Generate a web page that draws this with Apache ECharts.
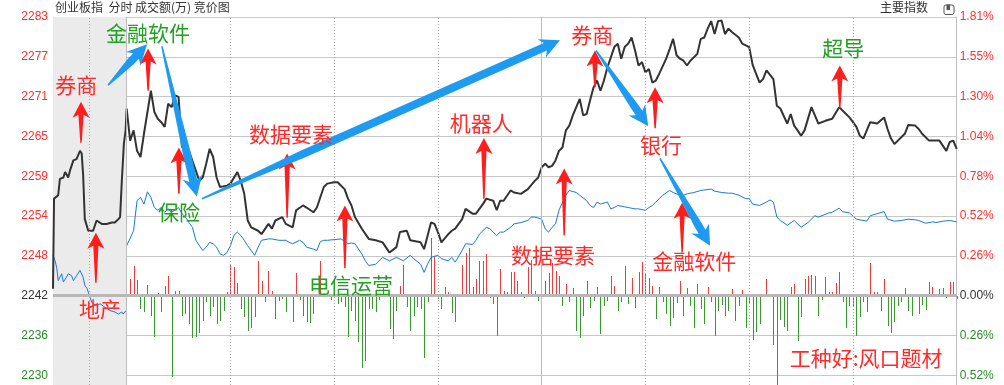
<!DOCTYPE html>
<html><head><meta charset="utf-8">
<script src="https://cdn.jsdelivr.net/npm/echarts@6/dist/echarts.min.js"></script>
<style>html,body{margin:0;padding:0;background:#fff}#c{width:1004px;height:385px}</style>
</head><body><div id="c"></div>
<script>
// ---------- data ----------
const PREV_CLOSE = 2242;
const leftLabels = ['2224','2230','2236','2242','2248','2254','2259','2265','2271','2277','2283'];
const rightLabels = ['0.78%','0.52%','0.26%','0.00%','0.26%','0.52%','0.78%','1.04%','1.30%','1.55%','1.81%'];
const timeMarksDotted = [-10.9, 30, 60, 90, 150, 180, 210];
const timeMarksSolid = [0, 120];

const auctionIndex = [[-21.3,2243.0],[-21.0,2256.2],[-19.8,2256.7],[-19.3,2259.1],[-18.3,2259.3],[-17.8,2260.1],[-16.9,2259.3],[-16.4,2260.3],[-15.4,2261.8],[-14.5,2262.0],[-13.5,2263.2],[-13.0,2262.8],[-12.6,2259.8],[-12.1,2253.2],[-11.1,2251.5],[-9.7,2251.5],[-8.7,2253.0],[-7.2,2252.5],[-5.8,2252.5],[-4.3,2252.7],[-3.4,2252.7],[-2.4,2253.2],[-1.9,2253.5],[-1.4,2258.8],[-0.8,2264.3],[-0.3,2266.2]];

const sessionIndex = [[0,2269.4],[1,2264.7],[2,2266.2],[3,2263.2],[4,2262.3],[5,2265.7],[7,2272.0],[8,2268.9],[9,2267.9],[10,2267.4],[11,2266.7],[12,2270.1],[13,2269.6],[14,2271.3],[15,2271.1],[16,2263.7],[17,2264.2],[18,2263.2],[20,2260.3],[21,2258.8],[22,2259.3],[23,2261.3],[24,2263.5],[25,2262.3],[26,2259.3],[27,2257.9],[29,2258.1],[30,2258.4],[32,2260.1],[33,2258.8],[34,2256.9],[35,2253.0],[36,2252.0],[38,2251.5],[39,2251.0],[41,2252.5],[42,2251.8],[43,2253.0],[45,2253.5],[46,2252.5],[48,2252.0],[49,2254.5],[51,2255.2],[52,2254.9],[54,2254.2],[55,2254.9],[56,2256.4],[57,2257.9],[58,2258.4],[60,2258.6],[61,2258.6],[63,2257.6],[64,2256.2],[65,2255.2],[66,2253.5],[68,2251.8],[70,2250.3],[72,2250.1],[74,2249.8],[76,2248.3],[78,2249.1],[79,2251.3],[81,2251.5],[82,2250.1],[85,2249.8],[86,2248.8],[88,2252.7],[89,2252.5],[90,2251.3],[91,2249.8],[93,2251.0],[94,2251.5],[95,2251.8],[97,2253.2],[98,2254.7],[100,2254.0],[101,2254.0],[103,2255.4],[104,2256.2],[106,2255.9],[107,2254.5],[108,2255.9],[109,2255.9],[111,2257.4],[112,2257.1],[114,2256.9],[116,2257.6],[118,2258.8],[119,2259.3],[120,2260.8],[121,2261.3],[122,2260.8],[123,2261.0],[124,2261.8],[125,2263.2],[126,2263.7],[127,2266.2],[128,2266.9],[129,2268.4],[130,2269.6],[131,2270.8],[132,2268.4],[133,2268.6],[134,2270.6],[135,2272.5],[136,2273.5],[137,2272.0],[138,2273.5],[139,2275.4],[141,2278.4],[142,2278.9],[143,2276.7],[144,2278.4],[145,2278.9],[146,2279.8],[147,2277.9],[148,2275.7],[149,2276.2],[150,2274.7],[151,2275.2],[152,2273.2],[153,2273.5],[154,2274.5],[156,2276.7],[157,2278.1],[158,2279.6],[159,2277.2],[160,2276.7],[161,2276.4],[162,2275.7],[163,2276.4],[165,2277.4],[166,2279.6],[167,2279.8],[168,2281.1],[169,2282.2],[170,2280.3],[171,2282.2],[172,2282.3],[173,2280.3],[174,2281.1],[175,2280.6],[177,2279.8],[178,2278.9],[180,2278.4],[181,2275.8],[183,2273.2],[184,2273.7],[185,2275.0],[187,2273.7],[188,2269.8],[189,2269.4],[191,2267.2],[192,2268.6],[193,2266.9],[194,2266.2],[195,2265.4],[196,2266.2],[198,2269.6],[200,2267.2],[202,2267.6],[204,2267.9],[206,2269.6],[208,2268.6],[209,2268.1],[211,2266.7],[212,2265.4],[213,2265.0],[214,2266.2],[215,2267.4],[217,2267.2],[219,2268.1],[220,2266.4],[221,2265.0],[222,2264.2],[223,2264.7],[225,2265.7],[226,2267.0],[228,2266.9],[229,2266.4],[230,2265.7],[232,2264.7],[235,2264.7],[237,2263.2],[238,2264.5],[239,2264.7],[240,2263.5]];

const auctionAvg = [[-21.3,2247.9],[-20.7,2247.1],[-20.2,2246.0],[-19.8,2244.2],[-18.8,2245.2],[-18.3,2244.0],[-17.4,2244.7],[-16.9,2245.2],[-15.9,2244.9],[-15.4,2244.2],[-14.5,2244.9],[-13.5,2245.7],[-13.0,2245.9],[-12.6,2244.7],[-12.1,2243.5],[-11.4,2243.0],[-11.1,2242.5],[-10.1,2241.0],[-8.7,2240.5],[-7.7,2240.8],[-6.3,2240.3],[-4.8,2239.8],[-3.4,2239.6],[-2.4,2239.3],[-1.4,2239.6],[-1.0,2239.3],[-0.2,2239.8]];

const sessionAvg = [[0,2249.3],[2,2251.5],[3,2255.9],[4,2256.4],[5,2255.4],[6,2257.2],[7,2256.4],[8,2254.9],[9,2254.5],[10,2254.9],[11,2254.2],[12,2254.7],[13,2254.2],[15,2254.9],[16,2254.0],[17,2253.5],[18,2252.7],[19,2252.0],[20,2250.1],[22,2248.6],[23,2249.1],[24,2249.8],[25,2249.6],[26,2249.1],[27,2248.1],[28,2247.9],[29,2248.3],[30,2249.3],[31,2250.8],[32,2251.3],[33,2250.8],[34,2250.1],[35,2249.3],[37,2247.9],[38,2249.1],[39,2250.1],[41,2250.3],[42,2250.3],[44,2250.1],[46,2250.1],[47,2249.8],[48,2249.6],[50,2250.1],[51,2249.8],[52,2249.1],[54,2248.8],[55,2248.6],[56,2249.9],[57,2250.1],[58,2250.1],[60,2250.2],[62,2250.3],[64,2249.6],[65,2249.7],[66,2249.6],[68,2248.1],[69,2247.1],[70,2246.4],[72,2246.6],[74,2247.6],[76,2247.1],[78,2247.6],[80,2247.1],[82,2247.9],[83,2247.4],[85,2246.6],[86,2245.4],[87,2246.6],[88,2247.6],[90,2247.9],[91,2247.4],[93,2247.1],[94,2247.6],[95,2246.9],[97,2248.6],[98,2249.6],[100,2249.5],[101,2250.1],[102,2251.0],[104,2252.0],[105,2251.8],[107,2250.8],[108,2251.3],[109,2251.3],[111,2252.0],[112,2252.5],[114,2252.7],[116,2253.0],[117,2253.5],[118,2253.5],[120,2253.2],[121,2251.8],[122,2251.3],[123,2252.0],[124,2252.5],[125,2254.5],[127,2256.7],[128,2257.4],[130,2257.1],[131,2256.7],[133,2255.9],[134,2255.2],[135,2254.9],[136,2255.7],[137,2255.4],[139,2255.7],[140,2254.7],[141,2254.9],[142,2255.2],[144,2255.0],[145,2254.9],[147,2254.7],[148,2254.7],[150,2254.5],[151,2254.9],[152,2255.2],[153,2255.7],[155,2256.7],[157,2257.4],[158,2257.1],[160,2256.7],[161,2256.7],[162,2256.9],[164,2257.1],[166,2257.4],[169,2257.6],[170,2257.3],[172,2257.1],[174,2257.0],[175,2257.0],[177,2256.7],[179,2256.2],[180,2256.2],[181,2255.4],[183,2255.2],[185,2255.7],[186,2256.0],[187,2255.7],[188,2253.5],[189,2253.0],[191,2252.3],[193,2253.0],[195,2252.0],[197,2252.7],[199,2253.7],[200,2253.5],[201,2253.7],[203,2254.1],[204,2254.2],[206,2254.8],[207,2254.3],[209,2254.1],[211,2253.2],[214,2252.9],[215,2253.7],[217,2254.0],[219,2254.3],[220,2253.2],[222,2252.9],[224,2253.0],[226,2253.2],[228,2253.1],[229,2253.0],[231,2252.6],[233,2252.8],[234,2252.7],[236,2252.9],[238,2253.0],[240,2252.8]];

// turnover per minute (signed: + up, - down)
const turnover = [[1,1670],[2,3000],[3,1570],[4,-1330],[5,-1670],[6,1100],[7,-2000],[8,-4170],[9,230],[10,-1670],[11,1000],[12,2000],[13,-8100],[14,500],[15,500],[16,-2000],[17,-1830],[18,-2830],[19,-4230],[20,-4170],[21,-3770],[22,-2570],[23,-670],[24,-2000],[25,-1170],[26,-2830],[27,-2500],[28,-1570],[29,330],[30,3170],[31,2900],[32,1230],[33,-1330],[34,-2170],[35,-3500],[36,-3230],[37,-2170],[38,3500],[39,1500],[40,-670],[41,2500],[42,500],[43,-2330],[44,-500],[45,-330],[46,-1670],[47,-170],[48,-2670],[49,2230],[50,-430],[51,-2000],[52,-2670],[53,-2770],[54,-1830],[56,3500],[59,-430],[61,-830],[62,-670],[63,-1170],[64,-4170],[65,-1500],[66,-2500],[67,-4670],[68,-7230],[69,-6570],[70,-1330],[71,-1330],[72,-1670],[73,-430],[74,800],[76,-3330],[77,-4330],[78,-1500],[79,1000],[80,3100],[81,-1170],[82,-3570],[83,-2000],[84,-1100],[85,-1330],[86,-6230],[87,-670],[88,5800],[89,4000],[90,-330],[91,-1330],[92,900],[93,400],[94,-1770],[95,-2670],[97,3100],[98,4300],[99,4800],[100,900],[101,1670],[102,3500],[103,3500],[104,4170],[105,-270],[106,-830],[107,-4000],[108,2670],[109,430],[110,330],[111,2330],[112,2330],[113,1500],[114,330],[115,-230],[116,2830],[117,3600],[118,500],[119,-570],
[121,1500],[122,2300],[123,3300],[124,2500],[125,2000],[126,-1000],[127,1200],[128,-600],[129,800],[130,-3500],[131,-4200],[132,-2000],[133,1500],[134,-1200],[135,-500],[136,900],[137,-3800],[138,-1000],[139,-500],[140,2000],[141,1000],[142,-1500],[143,-600],[144,3000],[145,-800],[146,1800],[147,-1200],[148,2400],[149,3400],[150,2200],[151,1800],[152,1000],[153,-2300],[154,900],[155,-600],[156,-1800],[157,-3000],[158,-2200],[159,-700],[160,1500],[161,-2000],[162,800],[163,-1000],[164,-3200],[165,1200],[166,-1300],[167,-2800],[168,900],[169,-600],[170,-4000],[171,-1500],[172,-900],[173,-2000],[174,-1500],[175,700],[176,-2500],[177,-1000],[178,600],[179,-3200],[180,-800],
[181,-4400],[182,-3670],[183,-2830],[184,170],[185,1670],[186,100],[187,-4930],[188,-9000],[189,-2400],[190,-3170],[191,-3500],[192,830],[193,1170],[194,-4570],[195,-2170],[196,1670],[197,2000],[198,2070],[199,2000],[200,-2070],[201,-430],[202,1830],[203,400],[204,400],[205,1270],[206,2400],[207,-600],[208,-3270],[209,-1070],[210,-1000],[211,-4070],[212,-2170],[213,-600],[214,-1600],[215,3270],[216,400],[217,400],[218,-1500],[219,1670],[220,-3000],[221,-3730],[222,-2670],[223,-1070],[224,-600],[225,730],[226,-1500],[227,-2000],[228,-170],[229,-1830],[230,-930],[231,-1400],[232,1330],[233,830],[235,670],[236,730],[237,-270],[238,1330],[239,1330],[240,-330]];

// annotations (minute, index level)
const noteTexts = ['券商','金融软件','保险','数据要素','电信运营','机器人','数据要素','券商','银行','金融软件','超导','地产','工种好:风口题材'];
const noteTone  = ['red','green','green','red','green','red','red','red','red','red','green','red','red'];
const noteAnchors = [[-14.6,2272.9],[6.2,2280.4],[15.1,2254.2],[47.5,2265.7],[64.9,2243.6],[102.5,2267.3],[123.3,2248.0],[134.6,2280.1],[154.5,2264.0],[164.1,2247.1],[207.2,2278.2],[-7.7,2240.1],[213.8,2232.9]];
// red up-arrows: minute, tip level, tail level
const upArrows = [[-13.2,2270.4,2264.4],[6.2,2278.2,2272.0],[15.1,2263.7,2256.9],[46.4,2262.8,2253.4],[63.1,2255.2,2246.0],[103.3,2265.1,2256.2],[126.5,2260.6,2250.8],[135.4,2277.9,2272.5],[152.8,2272.5,2266.5],[160.6,2255.6,2248.3],[206.2,2275.7,2269.5],[-8.9,2251.2,2243.9]];
// blue flow arrows: from (minute, level) to (minute, level)
const flowArrows = [[-5.4,2272.8,5.9,2278.8],[10.2,2278.5,20.3,2256.5],[21.8,2256.2,125.3,2279.4],[135.7,2277.9,150.8,2266.8],[154.2,2262.1,168.7,2249.3]];

// ---------- chart ----------
const pct = p => (p / PREV_CLOSE - 1) * 100;
const toPct = arr => arr.map(d => [d[0], pct(d[1])]);
const RED = '#ff2a2a';
const STEP = 0.26, YMIN = -0.78, YMAX = 1.82;
const VOLK = 15300;
const idxOf = v => Math.round((Number(v) - YMIN) / STEP);
const labColor = v => { v = Number(v); return v > 0.001 ? '#ff3030' : (v < -0.001 ? '#2a8a2a' : '#333'); };
const CJK = '"Noto Sans CJK SC","Noto Sans CJK JP",sans-serif';

const chart = echarts.init(document.getElementById('c'), null, {renderer: 'canvas'});

function volItem(params, api) {
  const p = api.coord([api.value(0), api.value(1)]);
  const z = api.coord([api.value(0), 0]);
  const x = Math.round(p[0]);
  const y0 = Math.round(Math.min(p[1], z[1]));
  const y1 = Math.round(Math.max(p[1], z[1]));
  return {type: 'rect', shape: {x: x, y: y0, width: 1, height: Math.max(1, y1 - y0)},
    style: {fill: api.value(1) >= 0 ? '#f03c3c' : '#3a9a32'}};
}
function redArrow(params, api) {
  const t = api.coord([api.value(0), api.value(1)]);
  const b = api.coord([api.value(0), api.value(2)]);
  const x = t[0], y = t[1], L = b[1] - t[1];
  return {type: 'polygon', shape: {points: [[x, y], [x + 8.5, y + 16], [x + 2.6, y + 13], [x + 0.7, y + L], [x - 0.7, y + L], [x - 2.6, y + 13], [x - 8.5, y + 16]]},
    style: {fill: '#ff1e1e'}};
}
function blueArrow(params, api) {
  const t = api.coord([api.value(0), api.value(1)]);
  const h = api.coord([api.value(2), api.value(3)]);
  const dx = h[0] - t[0], dy = h[1] - t[1], len = Math.hypot(dx, dy);
  const ux = dx / len, uy = dy / len, nx = -uy, ny = ux;
  const HL = 20, HW = 10, SW = 4, TW = 0.8;
  const taper = Math.min(110, len - HL - 4);
  const at = (d, w) => [t[0] + ux * d + nx * w, t[1] + uy * d + ny * w];
  return {type: 'polygon', shape: {points: [at(0, TW), at(taper, SW), at(len - HL + 4, SW), at(len - HL, HW), at(len, 0), at(len - HL, -HW), at(len - HL + 4, -SW), at(taper, -SW), at(0, -TW)]},
    style: {fill: '#1e9bf0'}};
}
function noteItem(params, api) {
  const c = api.coord([api.value(0), api.value(1)]);
  const i = params.dataIndex;
  return {type: 'text', x: c[0], y: c[1], style: {text: noteTexts[i], fill: noteTone[i] === 'red' ? RED : '#22a022',
    font: '21px ' + CJK, align: 'center', verticalAlign: 'middle', textAlign: 'center', textVerticalAlign: 'middle'}};
}

const vLines = timeMarksDotted.map(v => ({xAxis: v, lineStyle: {type: [1, 2], color: '#a8a8a8', width: 1}}))
  .concat(timeMarksSolid.map(v => ({xAxis: v, lineStyle: {type: 'solid', color: '#bcbcbc', width: 1}})))
  .concat([{yAxis: 0, lineStyle: {type: 'solid', color: '#b8b8b8', width: 3}}]);

chart.setOption({
  animation: false,
  backgroundColor: '#ffffff',
  grid: {left: 53, top: 17, width: 903.7, height: 398, containLabel: false, outerBoundsMode: 'none'},
  xAxis: {type: 'value', min: -21.3, max: 240, show: false},
  yAxis: [
    {type: 'value', min: YMIN, max: YMAX, interval: STEP, position: 'left', z: 1,
      axisLine: {show: true, lineStyle: {color: '#bdbdbd'}}, axisTick: {show: false},
      splitLine: {show: true, lineStyle: {color: '#c8c8c8', width: 1}},
      axisLabel: {margin: 5, fontSize: 12, fontFamily: '"Liberation Sans",Arial,sans-serif',
        formatter: v => leftLabels[idxOf(v)] || '', color: labColor}},
    {type: 'value', min: YMIN, max: YMAX, interval: STEP, position: 'right', z: 1,
      axisLine: {show: true, lineStyle: {color: '#bdbdbd'}}, axisTick: {show: false}, splitLine: {show: false},
      axisLabel: {margin: 3, fontSize: 12, fontFamily: '"Liberation Sans",Arial,sans-serif',
        formatter: v => rightLabels[idxOf(v)] || '', color: labColor}},
    {type: 'value', min: YMIN * VOLK, max: YMAX * VOLK, show: false, splitLine: {show: false}}
  ],
  graphic: [
    {type: 'text', left: 55, top: 1, style: {text: '创业板指  分时 成交额(万) 竞价图', fill: '#333', font: '12px ' + CJK}},
    {type: 'text', left: 880, top: 1, style: {text: '主要指数', fill: '#333', font: '12px ' + CJK}},
    {type: 'rect', left: 941.5, top: 2.5, shape: {width: 10, height: 9.5, r: 2}, style: {fill: 'none', stroke: '#555', lineWidth: 1}},
    {type: 'rect', left: 946.5, top: 4.5, shape: {width: 3.5, height: 5.5}, style: {fill: '#555'}}
  ],
  series: [
    {type: 'line', data: [], z: 0, silent: true,
      markArea: {silent: true, itemStyle: {color: '#ebebeb'}, data: [[{xAxis: -21.3}, {xAxis: 0}]]}},
    {type: 'line', data: [], z: 1, silent: true,
      markLine: {silent: true, symbol: ['none', 'none'], label: {show: false}, data: vLines}},
    {type: 'custom', yAxisIndex: 2, z: 2, silent: true, renderItem: volItem, data: turnover},
    {type: 'line', data: toPct(auctionAvg), showSymbol: false, z: 3, lineStyle: {color: '#1a78d6', width: 1}},
    {type: 'line', data: toPct(sessionAvg), showSymbol: false, z: 3, lineStyle: {color: '#1a78d6', width: 1}},
    {type: 'line', data: toPct(auctionIndex.concat(sessionIndex)), showSymbol: false, z: 4, lineStyle: {color: '#333', width: 2}},
    {type: 'custom', z: 5, silent: true, renderItem: redArrow, data: upArrows.map(d => [d[0], pct(d[1]), pct(d[2])])},
    {type: 'custom', z: 6, silent: true, renderItem: blueArrow, data: flowArrows.map(d => [d[0], pct(d[1]), d[2], pct(d[3])])},
    {type: 'custom', z: 7, silent: true, renderItem: noteItem, data: toPct(noteAnchors)}
  ]
});
</script></body></html>
